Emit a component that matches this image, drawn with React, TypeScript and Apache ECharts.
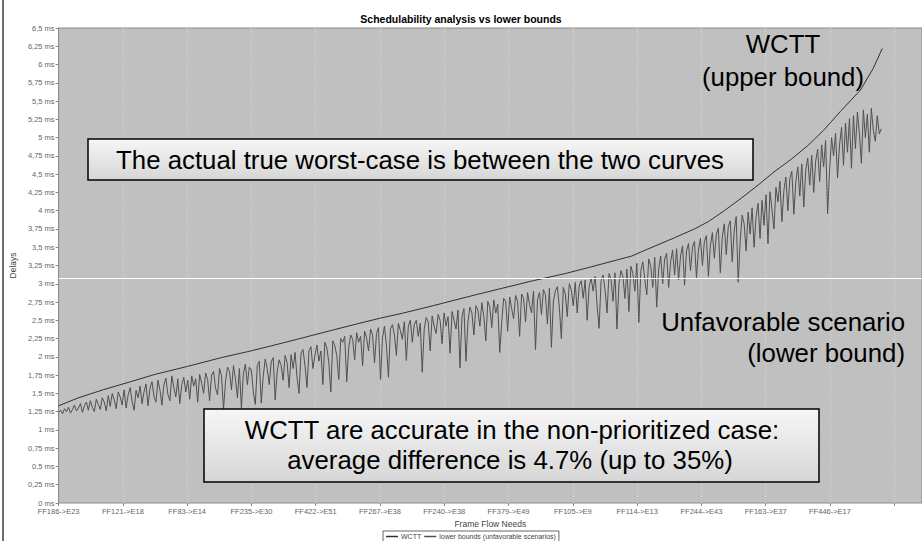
import React, { useEffect, useRef } from "react";
import * as echarts from "echarts";

// ---- data ----
const xTickLabels = [
  "FF186->E23", "FF121->E18", "FF83->E14", "FF235->E30", "FF422->E51", "FF267->E38",
  "FF240->E38", "FF379->E49", "FF105->E9", "FF114->E13", "FF244->E43", "FF163->E37",
  "FF446->E17", "",
];
const TICK_STEP = 64.7; // flows between labelled ticks
const X_MAX = 869;

// WCTT (upper bound): flow index -> delay (ms)
const upperFlows = [0, 20, 45, 70, 97, 130, 164, 190, 214, 240, 257, 277, 300, 324, 347, 377, 397, 420, 447, 477, 510, 530, 577, 587, 620, 640, 654, 670, 687, 704, 720, 737, 754, 770, 787, 807, 820, 829];
const upperDelays = [1.33, 1.44, 1.55, 1.65, 1.76, 1.87, 1.99, 2.07, 2.15, 2.24, 2.30, 2.37, 2.45, 2.53, 2.60, 2.70, 2.77, 2.85, 2.94, 3.04, 3.14, 3.21, 3.38, 3.44, 3.63, 3.75, 3.85, 4.00, 4.17, 4.35, 4.53, 4.70, 4.89, 5.10, 5.36, 5.65, 5.95, 6.22];

// lower bounds (unfavorable scenarios), one value every LOWER_STEP flows
const LOWER_STEP = 2;
const lowerDelays = [
  1.24, 1.27, 1.22, 1.29, 1.25, 1.31, 1.23, 1.28, 1.34, 1.26, 1.30, 1.36, 1.24, 1.33, 1.38, 1.27, 1.40, 1.31, 1.25, 1.42,
  1.35, 1.28, 1.44, 1.38, 1.26, 1.47, 1.32, 1.50, 1.41, 1.29, 1.52, 1.45, 1.34, 1.55, 1.30, 1.48, 1.58, 1.39, 1.27, 1.54,
  1.44, 1.60, 1.36, 1.52, 1.63, 1.33, 1.57, 1.66, 1.46, 1.38, 1.68, 1.55, 1.34, 1.62, 1.71, 1.49, 1.40, 1.74, 1.58, 1.45,
  1.70, 1.36, 1.62, 1.72, 1.52, 1.68, 1.42, 1.74, 1.60, 1.70, 1.38, 1.76, 1.64, 1.50, 1.78, 1.69, 1.40, 1.75, 1.80, 1.57,
  1.48, 1.84, 1.74, 1.28, 1.66, 1.86, 1.80, 1.55, 1.88, 1.70, 1.44, 1.84, 1.30, 1.77, 1.90, 1.62, 1.86, 1.82, 1.52, 1.35,
  1.88, 1.94, 1.37, 1.74, 1.97, 1.84, 1.62, 1.93, 1.99, 1.41, 1.80, 1.96, 1.88, 1.68, 2.02, 1.92, 1.58, 2.03, 1.84, 2.06,
  1.72, 1.50, 2.05, 2.10, 1.88, 1.58, 2.08, 2.14, 1.84, 2.02, 2.16, 1.94, 2.08, 1.62, 2.20, 2.12, 1.92, 1.52, 2.22, 2.15,
  2.02, 1.69, 2.25, 2.20, 2.28, 1.66, 2.12, 2.30, 2.24, 1.96, 2.33, 2.20, 2.28, 1.88, 2.35, 2.26, 2.08, 2.38, 2.30, 1.92,
  2.32, 2.40, 1.69, 2.26, 2.42, 2.15, 1.72, 2.38, 2.44, 2.30, 2.02, 2.46, 2.36, 2.24, 2.48, 1.95, 2.42, 2.50, 2.20, 2.44,
  2.50, 2.28, 2.46, 1.79, 2.38, 2.54, 2.48, 2.08, 2.56, 2.42, 2.32, 2.58, 2.50, 2.18, 2.60, 2.42, 2.55, 2.05, 2.62, 2.50,
  2.38, 2.64, 1.85, 2.55, 2.66, 1.94, 2.48, 2.68, 2.60, 2.30, 2.70, 2.64, 2.42, 2.74, 2.55, 2.22, 2.76, 2.68, 2.40, 2.78,
  2.60, 2.72, 2.06, 2.48, 2.80, 2.76, 2.35, 2.82, 2.66, 2.52, 2.84, 2.76, 2.28, 2.86, 2.80, 2.48, 2.88, 2.72, 2.60, 2.90,
  2.10, 2.78, 2.88, 2.58, 2.92, 2.85, 2.45, 2.94, 2.13, 2.76, 2.90, 2.96, 2.68, 2.25, 2.95, 2.86, 2.55, 3.00, 2.92, 2.70,
  3.02, 2.60, 2.98, 3.04, 2.80, 3.05, 2.50, 2.96, 3.08, 2.90, 3.10, 2.70, 2.39, 3.04, 3.12, 2.92, 2.60, 3.14, 3.06, 2.76,
  3.15, 2.38, 3.00, 3.18, 3.10, 2.80, 3.20, 2.62, 3.24, 3.14, 2.90, 3.28, 2.47, 3.18, 3.30, 3.06, 2.85, 3.34, 3.24, 2.95,
  3.36, 2.68, 3.20, 3.38, 3.00, 3.34, 3.42, 2.95, 3.30, 3.46, 3.12, 3.48, 3.05, 3.38, 3.52, 2.98, 3.45, 3.55, 3.18, 3.50,
  3.58, 3.08, 3.46, 3.62, 3.25, 3.58, 3.66, 3.10, 3.52, 3.70, 3.35, 3.68, 3.76, 3.15, 3.64, 3.82, 3.40, 3.78, 3.86, 3.30,
  3.72, 3.92, 3.02, 3.58, 3.94, 3.82, 3.45, 3.98, 3.68, 4.04, 3.50, 3.92, 4.10, 3.62, 4.14, 3.80, 4.22, 3.55, 4.26, 4.02,
  3.75, 4.32, 4.12, 4.40, 3.85, 4.28, 4.46, 4.00, 4.44, 4.54, 3.95, 4.40, 4.60, 4.20, 4.64, 4.05, 4.56, 4.72, 4.35, 4.76,
  4.25, 4.68, 4.84, 4.40, 4.90, 4.60, 4.96, 3.96, 4.55, 5.00, 4.75, 5.06, 4.45, 4.90, 5.14, 4.62, 5.20, 4.80, 5.26, 4.58,
  5.30, 4.85, 5.35, 5.05, 4.65, 5.38, 5.00, 5.32, 4.80, 5.40, 5.10, 4.95, 5.30, 5.05, 5.12,
];
const crosshairDelay = 3.08;

const seriesNames = ["WCTT", "lower bounds (unfavorable scenarios)"];
const FONT = "Liberation Sans, Arial, sans-serif";

export default function App() {
  const ref = useRef<HTMLDivElement>(null);
  useEffect(() => {
    if (!ref.current) return;
    const chart = echarts.init(ref.current, undefined, { renderer: "svg" });
    const upperData = upperFlows.map((f, i) => [f, upperDelays[i]]);
    const lowerData = lowerDelays.map((v, i) => [i * LOWER_STEP, v]);
    const boxFill = () =>
      new echarts.graphic.LinearGradient(0, 0, 0, 1, [
        { offset: 0, color: "#f6f6f6" },
        { offset: 1, color: "#d6d6d6" },
      ]);
    const bigFont = { fontSize: 25.8, fontFamily: FONT, fill: "#000" };
    chart.setOption({
      animation: false,
      backgroundColor: "#ffffff",
      title: {
        text: "Schedulability analysis vs lower bounds",
        left: "center",
        top: 8,
        textStyle: { fontSize: 10.5, fontWeight: "bold", color: "#000", fontFamily: FONT },
      },
      legend: {
        data: seriesNames,
        left: 383,
        top: 531,
        icon: "rect",
        itemWidth: 12,
        itemHeight: 1.5,
        itemGap: 3,
        padding: [2, 3],
        borderColor: "#666",
        borderWidth: 1,
        backgroundColor: "#fff",
        textStyle: { fontSize: 7, color: "#444", fontFamily: FONT, padding: [0, 0, 0, -2] },
      },
      grid: {
        left: 53,
        right: 0,
        top: 28,
        bottom: 38,
        show: true,
        backgroundColor: "#c0c0c0",
        borderColor: "#8a8a8a",
        borderWidth: 1,
      },
      xAxis: {
        type: "value",
        min: 0,
        max: X_MAX,
        interval: TICK_STEP,
        name: "Frame Flow Needs",
        nameLocation: "middle",
        nameGap: 16,
        nameTextStyle: { fontSize: 8.5, color: "#444", fontFamily: FONT },
        axisLine: { show: false },
        axisTick: { show: true, length: 3, lineStyle: { color: "#888" } },
        axisLabel: {
          fontSize: 7.5,
          color: "#666",
          margin: 4,
          fontFamily: FONT,
          showMaxLabel: false,
          formatter: (v: number) => xTickLabels[Math.round(v / TICK_STEP)] ?? "",
        },
        splitLine: { show: true, lineStyle: { color: "#dadada", type: [1, 2], width: 1 } },
      },
      yAxis: {
        type: "value",
        min: 0,
        max: 6.5,
        interval: 0.25,
        name: "Delays",
        nameLocation: "middle",
        nameGap: 35,
        nameRotate: 90,
        nameTextStyle: { fontSize: 8.5, color: "#444", fontFamily: FONT },
        axisLine: { show: true, lineStyle: { color: "#8a8a8a" } },
        axisTick: { show: true, length: 3, lineStyle: { color: "#888" } },
        axisLabel: {
          fontSize: 7.5,
          color: "#666",
          margin: 4,
          fontFamily: FONT,
          formatter: (v: number) => String(v).replace(".", ",") + " ms",
        },
        splitLine: { show: false },
      },
      series: [
        {
          name: seriesNames[0],
          type: "line",
          data: upperData,
          showSymbol: false,
          symbol: "none",
          color: "#303030",
          lineStyle: { color: "#303030", width: 1 },
          z: 3,
          markLine: {
            silent: true,
            symbol: "none",
            label: { show: false },
            lineStyle: { color: "#ffffff", type: "solid", width: 1 },
            data: [{ yAxis: crosshairDelay }],
          },
        },
        {
          name: seriesNames[1],
          type: "line",
          data: lowerData,
          showSymbol: false,
          symbol: "none",
          color: "#505050",
          lineStyle: { color: "#505050", width: 1 },
          z: 2,
        },
      ],
      graphic: [
        { type: "rect", z: 50, shape: { x: 2, y: 0, width: 2, height: 541 }, style: { fill: "#6e6e6e" } },
        {
          type: "rect",
          z: 100,
          shape: { x: 88, y: 139, width: 665, height: 41 },
          style: { fill: boxFill(), stroke: "#000", lineWidth: 1.5 },
        },
        {
          type: "text",
          z: 101,
          x: 420,
          y: 160,
          style: { ...bigFont, text: "The actual true worst-case is between the two curves", align: "center", verticalAlign: "middle" },
        },
        {
          type: "rect",
          z: 100,
          shape: { x: 204, y: 409, width: 615, height: 73 },
          style: { fill: boxFill(), stroke: "#000", lineWidth: 1.5 },
        },
        {
          type: "text",
          z: 101,
          x: 512,
          y: 430,
          style: { ...bigFont, text: "WCTT are accurate in the non-prioritized case:", align: "center", verticalAlign: "middle" },
        },
        {
          type: "text",
          z: 101,
          x: 510,
          y: 460,
          style: { ...bigFont, text: "average difference is 4.7% (up to 35%)", align: "center", verticalAlign: "middle" },
        },
        { type: "text", z: 101, x: 783, y: 44, style: { ...bigFont, text: "WCTT", align: "center", verticalAlign: "middle" } },
        { type: "text", z: 101, x: 783, y: 77, style: { ...bigFont, text: "(upper bound)", align: "center", verticalAlign: "middle" } },
        { type: "text", z: 101, x: 905, y: 322, style: { ...bigFont, text: "Unfavorable scenario", align: "right", verticalAlign: "middle" } },
        { type: "text", z: 101, x: 905, y: 353, style: { ...bigFont, text: "(lower bound)", align: "right", verticalAlign: "middle" } },
      ],
    });
    return () => chart.dispose();
  }, []);
  return (
    <div
      ref={ref}
      style={{ position: "fixed", left: 0, top: 0, width: 922, height: 541, background: "#fff" }}
    />
  );
}
